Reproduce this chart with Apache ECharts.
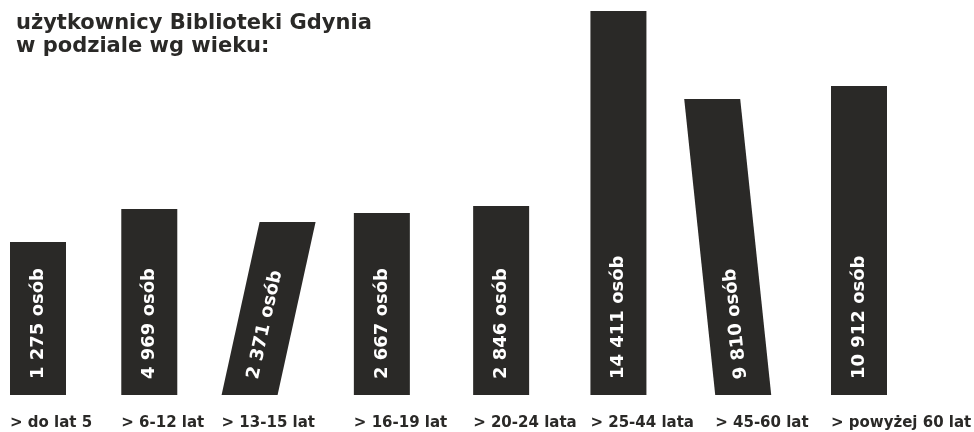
<!DOCTYPE html>
<html>
<head>
<meta charset="utf-8">
<script src="https://cdn.jsdelivr.net/npm/echarts@6/dist/echarts.min.js"></script>
<style>
  html, body { margin: 0; padding: 0; background: #fff; }
  #chart { width: 974px; height: 432px; }
</style>
</head>
<body>
<div id="chart"></div>
<script>
// grupy wiekowe
var categories = ["> do lat 5", "> 6-12 lat", "> 13-15 lat", "> 16-19 lat",
                  "> 20-24 lata", "> 25-44 lata", "> 45-60 lat", "> powyżej 60 lat"];
// liczba osób (podpisy na słupkach)
var users = [1275, 4969, 2371, 2667, 2846, 14411, 9810, 10912];
// wysokość słupka tak jak na grafice (nie jest proporcjonalna do liczby osób)
var barHeight = [153, 186, 173, 182, 189, 384, 296, 309];

// wygląd: pochylenie słupka (przesunięcie góry względem dołu, px) i drobne przesunięcia w poziomie
var tilt = [0, 0, 38, 0, 0, 0, -31, 0];
var nudge = [0, -6, -4, -8, -6, -6, -14, 0];
var barColor = "#2a2927";
var font = "DejaVu Sans";

function fmt(v) {
  return String(v).replace(/\B(?=(\d{3})+(?!\d))/g, " ") + " osób";
}

var chart = echarts.init(document.getElementById("chart"));

function renderItem(params, api) {
  var i = api.value(0);
  var base = api.coord([i, 0]);
  var top = api.coord([i, api.value(1)]);
  var H = base[1] - top[1];
  var bw = 56;
  var t = tilt[i];
  var cx = base[0] + nudge[i];
  var bx = cx - t / 2, tx = cx + t / 2;
  var lift = 16;
  return {
    type: "group",
    children: [
      {
        type: "polygon",
        shape: { points: [[bx - bw / 2, base[1]], [bx + bw / 2, base[1]],
                          [tx + bw / 2, top[1]], [tx - bw / 2, top[1]]] },
        style: { fill: barColor }
      },
      {
        type: "text",
        x: bx + t * lift / H,
        y: base[1] - lift,
        rotation: Math.atan2(H, t),
        style: {
          text: fmt(users[i]), fill: "#fff",
          font: "bold 18px '" + font + "'",
          align: "left", verticalAlign: "middle"
        }
      },
      {
        type: "text",
        x: bx - bw / 2,
        y: base[1] + 28,
        style: {
          text: categories[i], fill: "#2a2927",
          font: "bold 15px '" + font + "'",
          align: "left", verticalAlign: "middle"
        }
      }
    ]
  };
}

chart.setOption({
  animation: false,
  title: {
    text: "użytkownicy Biblioteki Gdynia\nw podziale wg wieku:",
    left: 11, top: 7,
    textStyle: { fontFamily: font, fontSize: 21, fontWeight: "bold", lineHeight: 23, color: "#2a2927" }
  },
  grid: { left: 38, right: 115, top: 11, bottom: 37 },
  xAxis: {
    type: "category", data: categories, boundaryGap: false, show: false
  },
  yAxis: { type: "value", min: 0, max: 384, show: false },
  series: [{
    type: "custom",
    renderItem: renderItem,
    encode: { x: 0, y: 1 },
    data: barHeight.map(function (h, i) { return [i, h]; })
  }]
});
</script>
</body>
</html>
